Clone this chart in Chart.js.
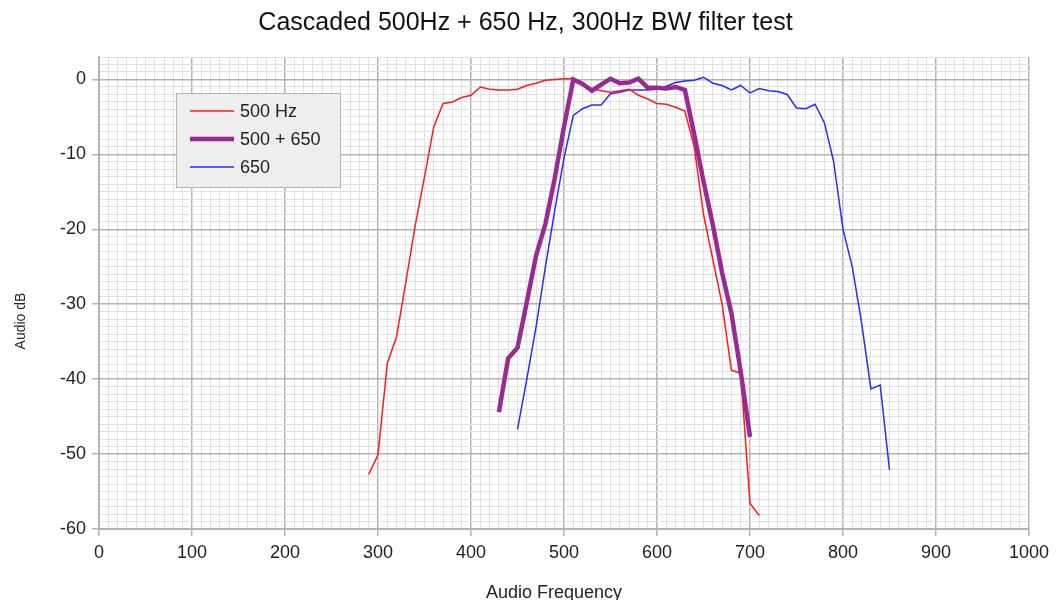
<!DOCTYPE html>
<html>
<head>
<meta charset="utf-8">
<script src="https://cdn.jsdelivr.net/npm/chart.js@4/dist/chart.umd.min.js"></script>
<style>
  html, body { margin: 0; padding: 0; background: #fff; }
  #wrap { width: 1062px; height: 600px; }
</style>
</head>
<body>
<div id="wrap"><canvas id="chart1"></canvas></div>
<script>
// values (Hz / dB)
const freq500 = [290, 300, 310, 320, 330, 340, 350, 360, 370, 380, 390, 400, 410, 420, 430, 440, 450,
  460, 470, 480, 490, 500, 510, 520, 530, 540, 550, 560, 570, 580, 590, 600, 610, 620, 630, 640,
  650, 660, 670, 680, 690, 700, 710];
const db500 = [-52.7, -50.1, -37.9, -34.3, -27, -19.5, -13, -6.3, -3.2, -3.0, -2.4, -2.1, -1.0, -1.3, -1.4, -1.4, -1.3,
  -0.8, -0.5, -0.1, 0, 0.1, 0.1, -0.6, -1.2, -1.5, -1.7, -1.5, -1.3, -2.1, -2.6, -3.2, -3.3, -3.7, -4.2, -9,
  -18, -24, -30, -38.8, -39.2, -56.6, -58.2];

const freqBoth = [430, 440, 450, 460, 470, 480, 490, 500, 510, 520, 530, 540, 550, 560, 570, 580, 590,
  600, 610, 620, 630, 640, 650, 660, 670, 680, 690, 700];
const dbBoth = [-44.4, -37.2, -35.8, -29.7, -23.5, -19.3, -13.2, -6.3, 0, -0.6, -1.5, -0.7, 0.1, -0.5, -0.4, 0.1, -1.1,
  -1.1, -1.2, -1.0, -1.4, -7.3, -13.6, -19.4, -25.8, -31.2, -39, -47.7];

const freq650 = [450, 460, 470, 480, 490, 500, 510, 520, 530, 540, 550, 560, 570, 580, 590, 600, 610,
  620, 630, 640, 650, 660, 670, 680, 690, 700, 710, 720, 730, 740, 750, 760, 770, 780, 790, 800,
  810, 820, 830, 840, 850];
const db650 = [-46.7, -40, -33, -25, -17.5, -10.5, -4.8, -3.9, -3.4, -3.4, -1.9, -1.7, -1.4, -1.4, -1.4, -1.3, -0.9,
  -0.4, -0.2, -0.1, 0.3, -0.5, -0.8, -1.4, -0.8, -1.8, -1.2, -1.5, -1.6, -2.0, -3.8, -3.9, -3.3, -5.8, -11, -20,
  -25, -32.5, -41.3, -40.8, -52.1];

const seriesNames = ["500 Hz", "500 + 650", "650"];
const xTitle = "Audio Frequency";
const yTitle = "Audio dB";

const pts = (xs, ys) => xs.map((x, i) => ({ x, y: ys[i] }));

const FONT = "'Liberation Sans', Arial, sans-serif";
const MAJOR = "#b3b3b3";
const MINOR = "#e0e0e0";

// legend box inside the plot + axis titles placed like the spreadsheet original
const boxLegend = {
  id: "boxLegend",
  afterDraw(chart) {
    const ctx = chart.ctx;
    ctx.save();
    ctx.fillStyle = "#eeeeee";
    ctx.strokeStyle = "#b3b3b3";
    ctx.lineWidth = 1;
    ctx.fillRect(176.5, 93.5, 164, 94);
    ctx.strokeRect(176.5, 93.5, 164, 94);
    ctx.font = "18px " + FONT;
    ctx.textBaseline = "middle";
    chart.data.datasets.forEach((ds, i) => {
      const y = 111 + i * 28;
      ctx.strokeStyle = ds.borderColor;
      ctx.lineWidth = ds.borderWidth;
      ctx.beginPath();
      ctx.moveTo(190, y);
      ctx.lineTo(234, y);
      ctx.stroke();
      ctx.fillStyle = "#222";
      ctx.fillText(ds.label, 240, y + 1);
    });

    // axis titles
    ctx.fillStyle = "#222";
    ctx.textAlign = "center";
    ctx.font = "18px " + FONT;
    ctx.fillText(xTitle, 554, 593);
    ctx.translate(21, 321);
    ctx.rotate(-Math.PI / 2);
    ctx.font = "14px " + FONT;
    ctx.fillText(yTitle, 0, 0);
    ctx.restore();
  },
};

new Chart(document.getElementById("chart1"), {
  type: "line",
  data: {
    datasets: [
      { label: seriesNames[0], data: pts(freq500, db500), borderColor: "#ff1a1a", borderWidth: 1.5, order: 1 },
      { label: seriesNames[1], data: pts(freqBoth, dbBoth), borderColor: "#982a94", borderWidth: 4.5, order: 0 },
      { label: seriesNames[2], data: pts(freq650, db650), borderColor: "#2a2aff", borderWidth: 1.5, order: 2 },
    ],
  },
  options: {
    responsive: true,
    maintainAspectRatio: false,
    animation: false,
    elements: { point: { radius: 0 }, line: { tension: 0 } },
    layout: { padding: { left: 0, right: 11, top: 0, bottom: 0 } },
    plugins: {
      legend: { display: false },
      tooltip: { enabled: false },
      title: {
        display: true,
        text: "Cascaded 500Hz + 650 Hz, 300Hz BW filter test",
        color: "#111",
        font: { family: FONT, size: 25, weight: "normal", lineHeight: 1.2 },
        padding: { top: 8, bottom: 19 },
      },
    },
    scales: {
      x: {
        type: "linear",
        min: 0,
        max: 1000,
        afterFit: (s) => { s.height = 71; },
        ticks: {
          stepSize: 10,
          autoSkip: false,
          maxRotation: 0,
          padding: 6,
          color: "#222",
          font: { family: FONT, size: 18 },
          callback: (v) => (v % 100 === 0 ? v : ""),
        },
        grid: {
          tickLength: 7,
          color: (c) => (c.tick && c.tick.value % 100 === 0 ? MAJOR : MINOR),
          tickColor: (c) => (c.tick && c.tick.value % 100 === 0 ? MAJOR : "rgba(0,0,0,0)"),
          lineWidth: (c) => (c.tick && c.tick.value % 100 === 0 ? 1.5 : 1),
        },
        border: { color: MAJOR, width: 2 },
      },
      y: {
        min: -60,
        max: 3,
        afterFit: (s) => { s.width = 99; },
        ticks: {
          stepSize: 1,
          autoSkip: false,
          padding: 6,
          color: "#222",
          font: { family: FONT, size: 18 },
          callback: (v) => (v % 10 === 0 ? v : ""),
        },
        grid: {
          tickLength: 7,
          color: (c) => (c.tick && c.tick.value % 10 === 0 ? MAJOR : MINOR),
          tickColor: (c) => (c.tick && c.tick.value % 10 === 0 ? MAJOR : "rgba(0,0,0,0)"),
          lineWidth: (c) => (c.tick && c.tick.value % 10 === 0 ? 1.5 : 1),
        },
        border: { color: MAJOR, width: 2 },
      },
      // empty spacer on the right so the plot ends where the original does
      spacer: {
        position: "right",
        display: true,
        afterFit: (s) => { s.width = 22; },
        ticks: { display: false },
        grid: { display: false, drawTicks: false },
        border: { display: false },
      },
    },
  },
  plugins: [boxLegend],
});
</script>
</body>
</html>
